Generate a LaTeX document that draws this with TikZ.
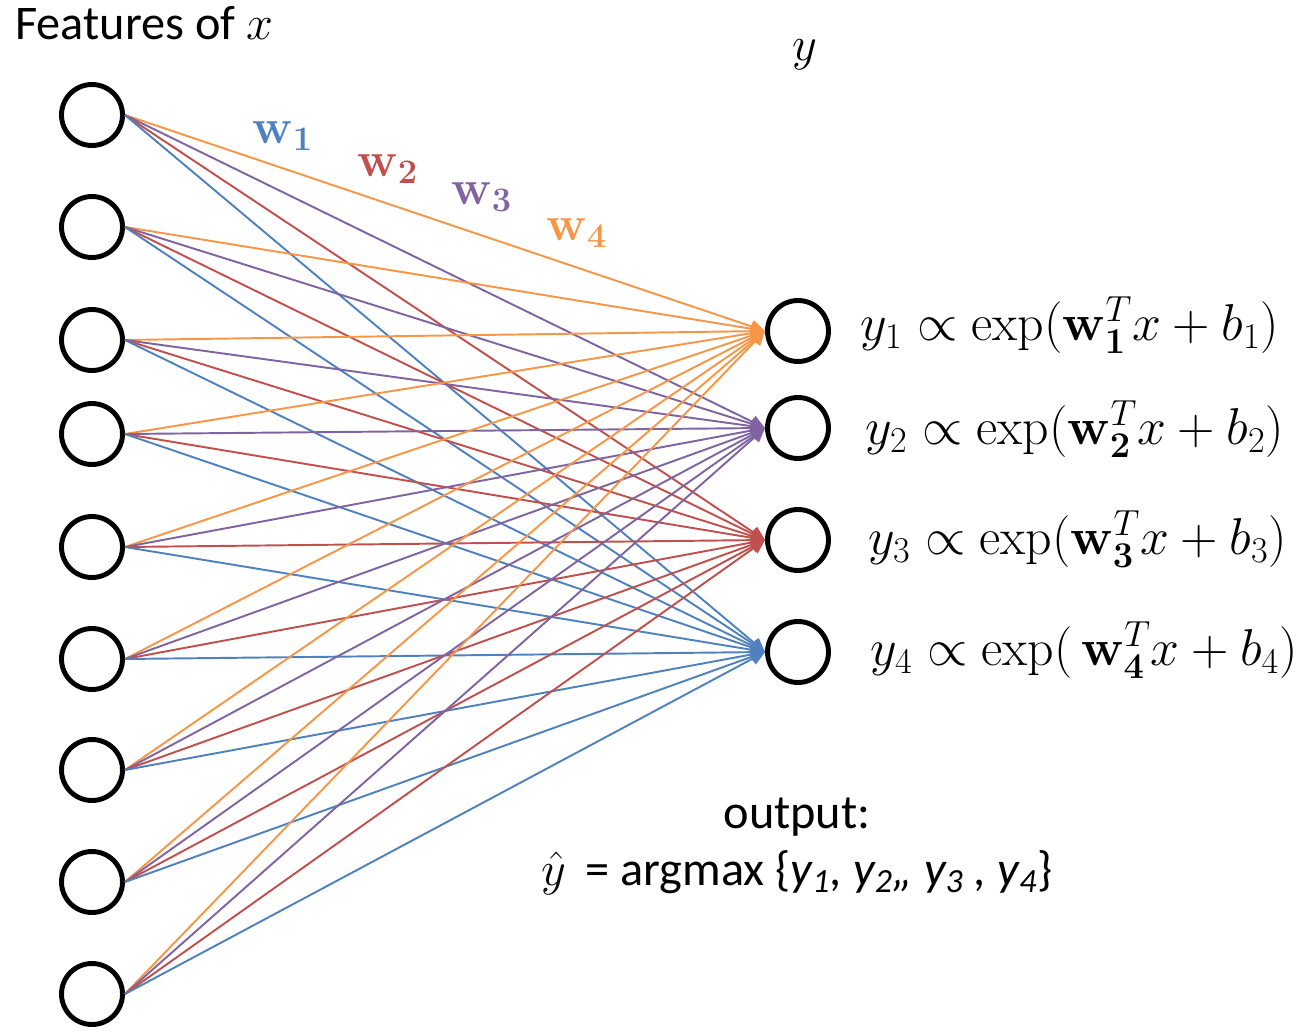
\documentclass[tikz,border=0pt]{standalone}
\usepackage{fix-cm}
\usepackage{amsmath}
\usepackage[no-math]{fontspec}
\setmainfont{Carlito}
\usetikzlibrary{arrows.meta}
\definecolor{cb}{RGB}{79,129,189}
\definecolor{cr}{RGB}{192,80,77}
\definecolor{cp}{RGB}{128,100,162}
\definecolor{co}{RGB}{247,150,70}
\begin{document}
\begin{tikzpicture}[x=0.02cm,y=-0.02cm,
  neuron/.style={circle,draw=black,line width=2.8pt,minimum size=1.22cm,inner sep=0pt},
  conn/.style={line width=1.1pt,-{Triangle[length=0.28cm,width=0.26cm]}},
  formula/.style={anchor=west,inner sep=0pt,font=\fontsize{29.5}{34}\selectfont},
  wlab/.style={inner sep=0pt,font=\fontsize{28}{32}\selectfont},
  txt/.style={inner sep=0pt,font=\fontsize{27.5}{32}\selectfont}]
\useasboundingbox (0,0) rectangle (1307,1030);
% input neurons
\foreach \k/\yy in {1/115,2/227,3/340,4/434,5/547,6/659,7/770,8/882,9/994}
  \node[neuron] (i\k) at (92,\yy) {};
% output neurons
\foreach \k/\yy in {1/331,2/428,3/540,4/652}
  \node[neuron] (o\k) at (798,\yy) {};
% connections
\foreach \i in {1,...,9}{
  \foreach \j/\c in {1/co,2/cp,3/cr,4/cb}{
    \draw[conn,\c] (i\i.east) -- (o\j.west);
  }
}
% labels
\node[txt,anchor=base west] (feat) at (15,40) {Features of $x$};
\node[txt] (ylab) at (805,55) {$y$};
\node[wlab,text=cb] (w1) at (283,136) {$\mathbf{w}_{\mathbf{1}}$};
\node[wlab,text=cr] (w2) at (388,169) {$\mathbf{w}_{\mathbf{2}}$};
\node[wlab,text=cp] (w3) at (482,197) {$\mathbf{w}_{\mathbf{3}}$};
\node[wlab,text=co] (w4) at (577,233) {$\mathbf{w}_{\mathbf{4}}$};
% formulas
\node[formula] (f1) at (860,325) {$y_1 \propto \exp(\mathbf{w}_{\mathbf{1}}^{T} x + b_1)$};
\node[formula] (f2) at (865,429) {$y_2 \propto \exp(\mathbf{w}_{\mathbf{2}}^{T} x + b_2)$};
\node[formula] (f3) at (868,539) {$y_3 \propto \exp(\mathbf{w}_{\mathbf{3}}^{T} x + b_3)$};
\node[formula] (f4) at (870,650) {$y_4 \propto \exp(\,\mathbf{w}_{\mathbf{4}}^{T} x + b_4)$};
% output text
\node[txt,anchor=base] (out1) at (797,828) {output:};
\node[txt,anchor=base] (out2) at (797,885) {$\hat{y}$\, = argmax \{\textit{y\textsubscript{1}, y\textsubscript{2},, y\textsubscript{3} , y\textsubscript{4}}\}};
\end{tikzpicture}
\end{document}
